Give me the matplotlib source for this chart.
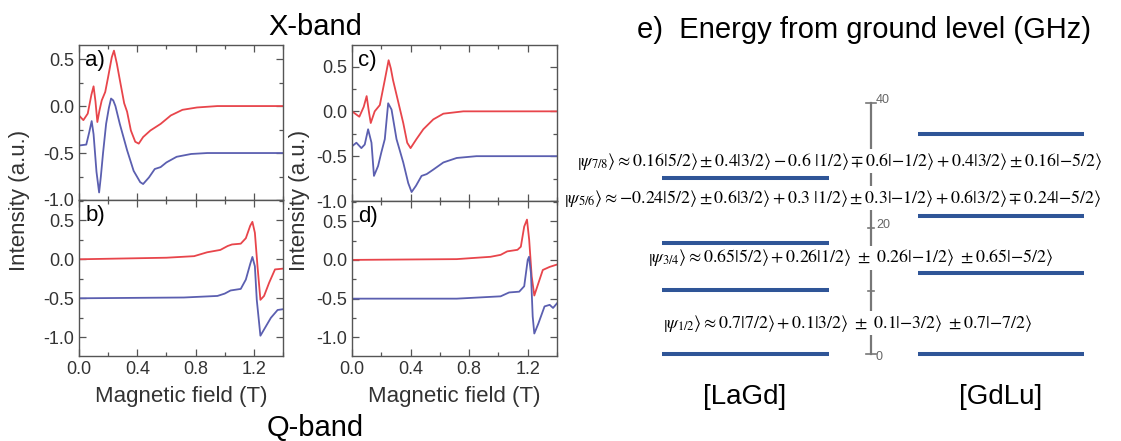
import matplotlib
matplotlib.use("Agg")
import matplotlib.pyplot as plt
from matplotlib.ticker import MultipleLocator

plt.rcParams['font.family'] = ['Liberation Sans', 'DejaVu Sans']
plt.rcParams['mathtext.fontset'] = 'stix'

# ---- EPR spectra (field in T, intensity in a.u.) ----
a_red_x = [0, 0.03, 0.06, 0.085, 0.10, 0.113, 0.126, 0.14, 0.156, 0.18, 0.20, 0.225, 0.24, 0.26, 0.28, 0.31, 0.33,
           0.356, 0.386, 0.41, 0.44, 0.49, 0.56, 0.63, 0.71, 0.81, 0.95, 1.4]
a_red_y = [-0.10, -0.15, -0.08, 0.12, 0.21, 0.05, -0.17, -0.05, 0.06, 0.15, 0.31, 0.52, 0.59, 0.45, 0.28, 0.03, -0.06,
           -0.26, -0.38, -0.40, -0.33, -0.26, -0.19, -0.10, -0.04, -0.015, 0.0, 0.0]
a_blue_x = [0, 0.05, 0.07, 0.087, 0.10, 0.12, 0.138, 0.15, 0.165, 0.186, 0.205, 0.22, 0.235, 0.25, 0.28, 0.33, 0.375,
            0.42, 0.44, 0.48, 0.52, 0.56, 0.60, 0.67, 0.77, 0.88, 1.4]
a_blue_y = [-0.42, -0.41, -0.28, -0.16, -0.30, -0.70, -0.92, -0.75, -0.50, -0.19, -0.02, 0.08, 0.06, 0.0, -0.19, -0.47,
            -0.69, -0.81, -0.83, -0.76, -0.67, -0.65, -0.60, -0.54, -0.51, -0.50, -0.50]

b_red_x = [0, 0.6, 0.79, 0.88, 0.97, 1.02, 1.05, 1.11, 1.145, 1.175, 1.19, 1.207, 1.225, 1.245, 1.27, 1.305, 1.345, 1.4]
b_red_y = [0.0, 0.02, 0.04, 0.09, 0.12, 0.17, 0.19, 0.20, 0.27, 0.43, 0.48, 0.34, -0.09, -0.52, -0.47, -0.30, -0.13, -0.12]
b_blue_x = [0, 0.72, 0.95, 1.0, 1.04, 1.11, 1.145, 1.175, 1.19, 1.207, 1.22, 1.245, 1.27, 1.317, 1.363, 1.4]
b_blue_y = [-0.50, -0.49, -0.47, -0.44, -0.40, -0.38, -0.26, -0.06, 0.03, -0.09, -0.52, -0.98, -0.90, -0.75, -0.65, -0.64]

c_red_x = [0, 0.05, 0.08, 0.10, 0.115, 0.128, 0.155, 0.19, 0.224, 0.25, 0.265, 0.28, 0.315, 0.35, 0.377, 0.40, 0.44,
           0.487, 0.555, 0.624, 0.76, 1.4]
c_red_y = [0.0, -0.06, 0.05, 0.17, 0.0, -0.13, 0.0, 0.07, 0.35, 0.57, 0.48, 0.35, 0.11, -0.13, -0.35, -0.41, -0.31,
           -0.20, -0.09, -0.026, 0.0, 0.0]
c_blue_x = [0, 0.03, 0.064, 0.087, 0.11, 0.133, 0.15, 0.178, 0.20, 0.224, 0.247, 0.27, 0.304, 0.35, 0.384, 0.407, 0.437,
            0.475, 0.51, 0.555, 0.624, 0.715, 0.85, 1.4]
c_blue_y = [-0.39, -0.35, -0.41, -0.37, -0.20, -0.35, -0.72, -0.61, -0.46, -0.31, 0.09, 0.02, -0.31, -0.57, -0.80, -0.90,
            -0.83, -0.72, -0.70, -0.65, -0.57, -0.52, -0.50, -0.50]

d_red_x = [0, 0.715, 0.946, 1.015, 1.06, 1.13, 1.153, 1.176, 1.195, 1.21, 1.227, 1.245, 1.273, 1.303, 1.35, 1.4]
d_red_y = [0.0, 0.01, 0.04, 0.065, 0.11, 0.13, 0.17, 0.43, 0.52, 0.26, -0.21, -0.46, -0.30, -0.13, -0.09, -0.06]
d_blue_x = [0, 0.715, 1.015, 1.073, 1.142, 1.176, 1.20, 1.209, 1.222, 1.234, 1.245, 1.273, 1.315, 1.35, 1.373, 1.4]
d_blue_y = [-0.50, -0.50, -0.47, -0.42, -0.41, -0.34, 0.0, 0.04, -0.17, -0.73, -0.95, -0.82, -0.60, -0.58, -0.62, -0.56]

# ---- energy levels (GHz) ----
lagd_levels = [0, 10.2, 17.7, 28.0]
gdlu_levels = [0, 12.9, 22.0, 35.0]
energy_ticks = [0, 10, 20, 30, 40]
energy_labels = ['0', '', '20', '', '40']

formulas = [
    r"$\left|\psi_{7/8}\right\rangle \approx 0.16|5/2\rangle \pm 0.4|3/2\rangle - 0.6\ |1/2\rangle \mp 0.6|{-1/2}\rangle"
    r" + 0.4|3/2\rangle \pm 0.16|{-5/2}\rangle$",
    r"$\left|\psi_{5/6}\right\rangle \approx {-0.24}|5/2\rangle \pm 0.6|3/2\rangle + 0.3\ |1/2\rangle \pm 0.3|{-1/2}\rangle"
    r" + 0.6|3/2\rangle \mp 0.24|{-5/2}\rangle$",
    r"$\left|\psi_{3/4}\right\rangle \approx 0.65|5/2\rangle + 0.26|1/2\rangle\ \pm\ 0.26|{-1/2}\rangle\ \pm 0.65|{-5/2}\rangle$",
    r"$\left|\psi_{1/2}\right\rangle \approx 0.7|7/2\rangle + 0.1|3/2\rangle\ \pm\ 0.1|{-3/2}\rangle\ \pm 0.7|{-7/2}\rangle$",
]
formula_x = [577, 564, 648, 663]       # left edge, layout px
formula_e = [30.7, 24.8, 15.3, 4.9]    # vertical position, GHz

RED = '#e8454b'
BLUE = '#5b5fb0'
GRAY = '#555555'

W, H = 1121, 441
fig = plt.figure(figsize=(W / 100, H / 100), dpi=100)


def px_axes(x0, y0, x1, y1):
    return fig.add_axes([x0 / W, 1 - y1 / H, (x1 - x0) / W, (y1 - y0) / H])


def style(ax, ylim, show_x):
    ax.set_xlim(0, 1.4)
    ax.set_ylim(*ylim)
    ax.xaxis.set_major_locator(MultipleLocator(0.4))
    ax.xaxis.set_minor_locator(MultipleLocator(0.2))
    ax.yaxis.set_major_locator(MultipleLocator(0.5))
    ax.yaxis.set_minor_locator(MultipleLocator(0.25))
    ax.tick_params(which='both', direction='in', top=True, right=True, colors=GRAY,
                   labelcolor='#333333', labelsize=13, width=0.9)
    ax.tick_params(which='major', length=5)
    ax.tick_params(which='minor', length=3)
    ax.yaxis.set_major_formatter(plt.FuncFormatter(lambda v, p: f"{v:.1f}"))
    ax.xaxis.set_major_formatter(plt.FuncFormatter(lambda v, p: f"{v:.1f}"))
    if not show_x:
        ax.tick_params(labelbottom=False)
    for s in ax.spines.values():
        s.set_color(GRAY)
        s.set_linewidth(1.0)


panels = [
    ('a)', (79, 45, 283, 200), (-1.0, 0.65), False, a_red_x, a_red_y, a_blue_x, a_blue_y),
    ('b)', (79, 200, 283, 356), (-1.24, 0.76), True, b_red_x, b_red_y, b_blue_x, b_blue_y),
    ('c)', (352, 45, 557, 201), (-1.0, 0.74), False, c_red_x, c_red_y, c_blue_x, c_blue_y),
    ('d)', (352, 201, 557, 356), (-1.24, 0.76), True, d_red_x, d_red_y, d_blue_x, d_blue_y),
]
for lab, box, ylim, show_x, rx, ry, bx, by in panels:
    ax = px_axes(*box)
    ax.plot(rx, ry, color=RED, lw=1.3)
    ax.plot(bx, by, color=BLUE, lw=1.3)
    style(ax, ylim, show_x)
    ax.text(0.03, 0.97, lab, transform=ax.transAxes, ha='left', va='top', fontsize=16)
    if show_x:
        ax.set_xlabel('Magnetic field (T)', fontsize=16, color='#333333', labelpad=6)

fig.text(20 / W, 1 - 200 / H, 'Intensity (a.u.)', rotation=90, ha='center', va='center', fontsize=16, color='#333333')
fig.text(300 / W, 1 - 200 / H, 'Intensity (a.u.)', rotation=90, ha='center', va='center', fontsize=16, color='#333333')
fig.text(315 / W, 1 - 27 / H, 'X-band', ha='center', va='center', fontsize=21)
fig.text(315 / W, 1 - 428 / H, 'Q-band', ha='center', va='center', fontsize=21)

# ---- energy diagram ----
ex = fig.add_axes([560 / W, 0, (W - 560) / W, 1])
ex.set_xlim(560, W)
ex.set_ylim(-(H - 354) / 6.28, 354 / 6.28)
ex.axis('off')

axis_x = 871
ex.plot([axis_x, axis_x], [energy_ticks[0], energy_ticks[-1]], color='#777777', lw=1.6, zorder=1)
for t, lab in zip(energy_ticks, energy_labels):
    half = 5 if t in (energy_ticks[0], energy_ticks[-1]) else 3
    ex.plot([axis_x - half, axis_x + half], [t, t], color='#777777', lw=1.2, zorder=1)
    if lab:
        dy = 0.5 if t > 0 else -0.4
        ex.text(axis_x + 5, t + dy, lab, fontsize=9, color='#666666', ha='left', va='center', zorder=1)

for e in lagd_levels:
    ex.plot([662, 829], [e, e], color='#2f5597', lw=2.9, solid_capstyle='butt', zorder=4)
for e in gdlu_levels:
    ex.plot([918, 1084], [e, e], color='#2f5597', lw=2.9, solid_capstyle='butt', zorder=4)

for fx, fe, f in zip(formula_x, formula_e, formulas):
    ex.text(fx, fe, f, fontsize=12.9, ha='left', va='center', zorder=3,
            bbox=dict(facecolor='white', edgecolor='none', pad=1.0))

fig.text(637 / W, 1 - 30 / H, 'e)  Energy from ground level (GHz)', ha='left', va='center', fontsize=21)
fig.text(745 / W, 1 - 397 / H, '[LaGd]', ha='center', va='center', fontsize=20)
fig.text(1001 / W, 1 - 397 / H, '[GdLu]', ha='center', va='center', fontsize=20)

fig.savefig('out.png', dpi=100)
